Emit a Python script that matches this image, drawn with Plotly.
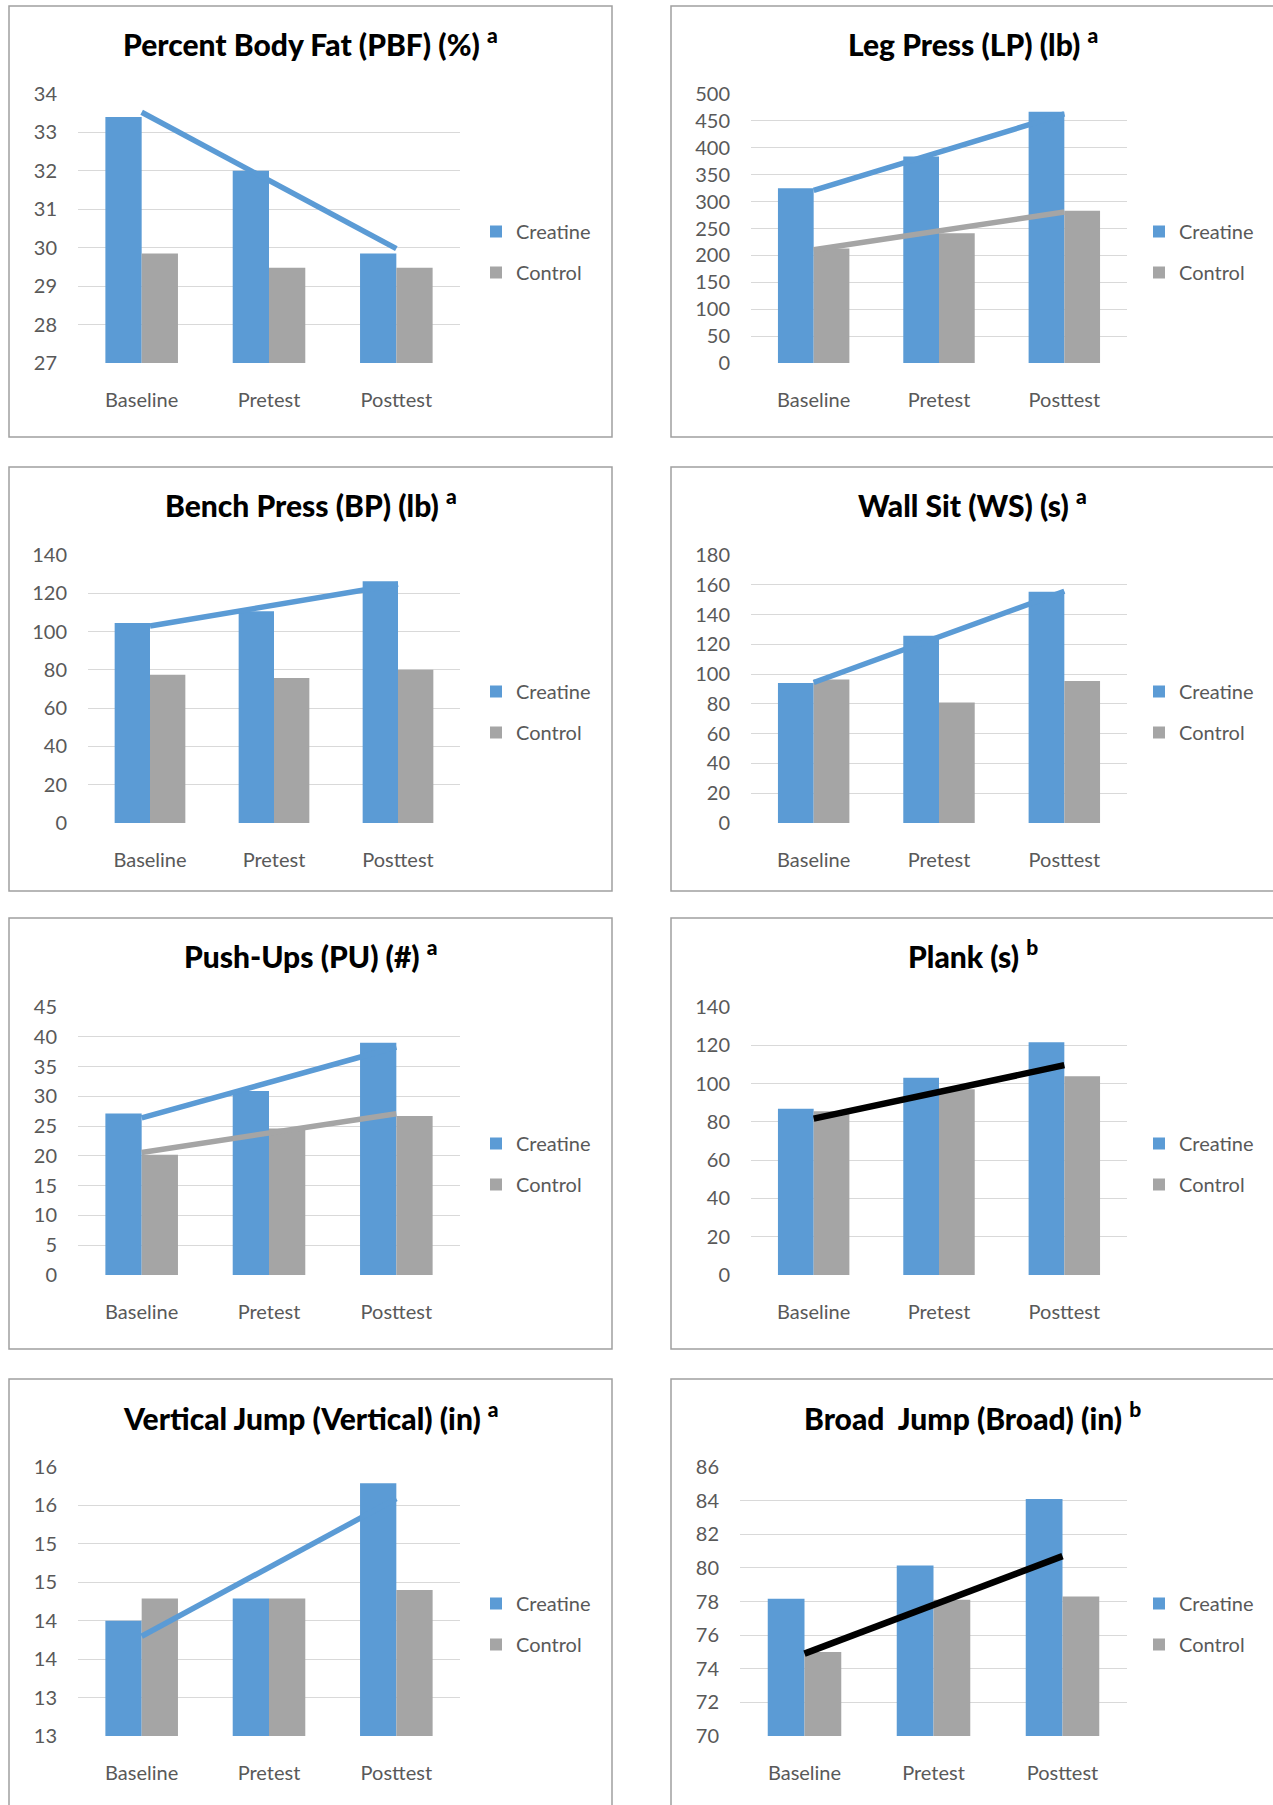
import numpy as np
import plotly.graph_objects as go

W, H = 1273, 1805

categories = ["Baseline", "Pretest", "Posttest"]
series_names = ["Creatine", "Control"]

pbf_creatine = [33.4, 32.0, 29.85]
pbf_control = [29.85, 29.48, 29.48]
lp_creatine = [325, 384, 467]
lp_control = [213, 241, 283]
bp_creatine = [104.5, 110.6, 126.3]
bp_control = [77.4, 75.8, 80.0]
ws_creatine = [94.0, 125.7, 155.3]
ws_control = [96.4, 81.0, 95.3]
pu_creatine = [27.1, 30.9, 39.0]
pu_control = [20.2, 24.6, 26.7]
plank_creatine = [86.8, 103.0, 121.6]
plank_control = [85.5, 97.0, 103.8]
vj_creatine = [14.0, 14.29, 15.79]
vj_control = [14.29, 14.29, 14.4]
bj_creatine = [78.17, 80.14, 84.1]
bj_control = [74.99, 78.1, 78.3]

# hand-drawn black lines (values at Baseline and Posttest)
plank_black_line = [81.7, 109.6]
bj_black_line = [74.9, 80.7]

vj_tick_values = [12.5, 13, 13.5, 14, 14.5, 15, 15.5, 16]
vj_tick_labels = ["13", "13", "14", "14", "15", "15", "16", "16"]

titles = [
    "Percent Body Fat (PBF) (%) <sup>a</sup>",
    "Leg Press (LP) (lb) <sup>a</sup>",
    "Bench Press (BP) (lb) <sup>a</sup>",
    "Wall Sit (WS) (s) <sup>a</sup>",
    "Push-Ups (PU) (#) <sup>a</sup>",
    "Plank (s) <sup>b</sup>",
    "Vertical Jump (Vertical) (in) <sup>a</sup>",
    "Broad  Jump (Broad) (in) <sup>b</sup>",
]

BLUE = "#5B9BD5"
GRAY = "#A5A5A5"
FONT = "Lato"
TXT = "#595959"

panels = [
    dict(c=pbf_creatine, k=pbf_control, trend=("c",), black=None, yr=[27, 34], dt=1,
         box=(9, 6, 612, 437), plot=(78, 94, 460, 363)),
    dict(c=lp_creatine, k=lp_control, trend=("c", "k"), black=None, yr=[0, 500], dt=50,
         box=(671, 6, 1276, 437), plot=(751, 94, 1127, 363)),
    dict(c=bp_creatine, k=bp_control, trend=("c",), black=None, yr=[0, 140], dt=20,
         box=(9, 467, 612, 891), plot=(88, 555, 460, 823)),
    dict(c=ws_creatine, k=ws_control, trend=("c",), black=None, yr=[0, 180], dt=20,
         box=(671, 467, 1276, 891), plot=(751, 555, 1127, 823)),
    dict(c=pu_creatine, k=pu_control, trend=("c", "k"), black=None, yr=[0, 45], dt=5,
         box=(9, 918, 612, 1349), plot=(78, 1007, 460, 1275)),
    dict(c=plank_creatine, k=plank_control, trend=(), black=plank_black_line, yr=[0, 140], dt=20,
         box=(671, 918, 1276, 1349), plot=(751, 1007, 1127, 1275)),
    dict(c=vj_creatine, k=vj_control, trend=("c",), black=None, yr=[12.5, 16], dt=None,
         box=(9, 1379, 612, 1815), plot=(78, 1467, 460, 1736)),
    dict(c=bj_creatine, k=bj_control, trend=(), black=bj_black_line, yr=[70, 86], dt=2,
         box=(671, 1379, 1276, 1815), plot=(740, 1467, 1127, 1736)),
]

title_y = [42, 42, 503, 503, 954, 954, 1416, 1416]
legend_y = [252, 252, 712, 712, 1164, 1164, 1624, 1624]


def px(x):
    return x / W


def py(y):
    return 1 - y / H


fig = go.Figure()
xs = [0, 1, 2]
layout = dict(shapes=[], annotations=[])

for i, p in enumerate(panels):
    n = i + 1
    xa = "x" if n == 1 else f"x{n}"
    ya = "y" if n == 1 else f"y{n}"
    lg = "legend" if n == 1 else f"legend{n}"
    for name, vals, col in ((series_names[0], p["c"], BLUE), (series_names[1], p["k"], GRAY)):
        fig.add_trace(go.Bar(x=xs, y=vals, name=name, marker=dict(color=col, line=dict(width=0)),
                             xaxis=xa, yaxis=ya, legend=lg, legendgroup=f"{name}{n}",
                             hoverinfo="skip"))
    # linear trendlines (Excel-style) computed from the series
    for key, col in (("c", BLUE), ("k", GRAY)):
        if key in p["trend"]:
            slope, icpt = np.polyfit(xs, p[key], 1)
            tx = [xs[0], xs[-1]]
            ty = [icpt + slope * t for t in tx]
            fig.add_trace(go.Scatter(x=tx, y=ty, mode="lines", line=dict(color=col, width=5.5),
                                     xaxis=xa, yaxis=ya, showlegend=False, hoverinfo="skip"))
    if p["black"] is not None:
        fig.add_trace(go.Scatter(x=[xs[0], xs[-1]], y=p["black"], mode="lines",
                                 line=dict(color="black", width=6.5),
                                 xaxis=xa, yaxis=ya, showlegend=False, hoverinfo="skip"))

    x0, y0, x1, y1 = p["plot"]
    xkey = "xaxis" if n == 1 else f"xaxis{n}"
    ykey = "yaxis" if n == 1 else f"yaxis{n}"
    layout[xkey] = dict(domain=[px(x0), px(x1)], anchor=ya, range=[-0.5, 2.5], automargin=False,
                        tickvals=xs, ticktext=categories, showgrid=False, zeroline=False,
                        showline=False, ticks="outside", ticklen=19, tickcolor="rgba(0,0,0,0)",
                        tickfont=dict(family=FONT, size=20, color=TXT), fixedrange=True)
    yax = dict(domain=[py(y1), py(y0)], anchor=xa, range=p["yr"], showgrid=True, automargin=False,
               gridcolor="#D9D9D9", gridwidth=1, zeroline=False, showline=False,
               ticks="outside", ticklen=16, tickcolor="rgba(0,0,0,0)",
               tickfont=dict(family=FONT, size=20, color=TXT), fixedrange=True)
    if p["dt"] is None:
        yax.update(tickmode="array", tickvals=vj_tick_values, ticktext=vj_tick_labels)
    else:
        yax.update(tickmode="linear", tick0=p["yr"][0], dtick=p["dt"])
    layout[ykey] = yax

    bx0, by0, bx1, by1 = p["box"]
    layout["shapes"].append(dict(type="rect", xref="paper", yref="paper",
                                 x0=px(bx0), x1=px(bx1), y0=py(by1), y1=py(by0),
                                 line=dict(color="#A0A0A0", width=1.5), layer="below"))
    layout["annotations"].append(dict(text=titles[i], xref="paper", yref="paper",
                                      x=px((bx0 + min(bx1, 1274)) / 2), y=py(title_y[i]),
                                      xanchor="center", yanchor="middle", showarrow=False,
                                      font=dict(family=FONT, size=30, color="black", weight=900)))
    leg_x = 476 if bx0 < 300 else 1139
    layout[lg] = dict(x=px(leg_x), y=py(legend_y[i]), xanchor="left", yanchor="middle",
                      bgcolor="rgba(0,0,0,0)", font=dict(family=FONT, size=20, color=TXT),
                      tracegroupgap=12, itemclick=False, itemdoubleclick=False)

fig.update_layout(**layout)
fig.update_layout(width=W, height=H, margin=dict(l=0, r=0, t=0, b=0, autoexpand=False),
                  paper_bgcolor="white", plot_bgcolor="white", barmode="group",
                  bargap=0.43, bargroupgap=0, showlegend=True)

fig.write_html("out.html", config=dict(displayModeBar=False))
